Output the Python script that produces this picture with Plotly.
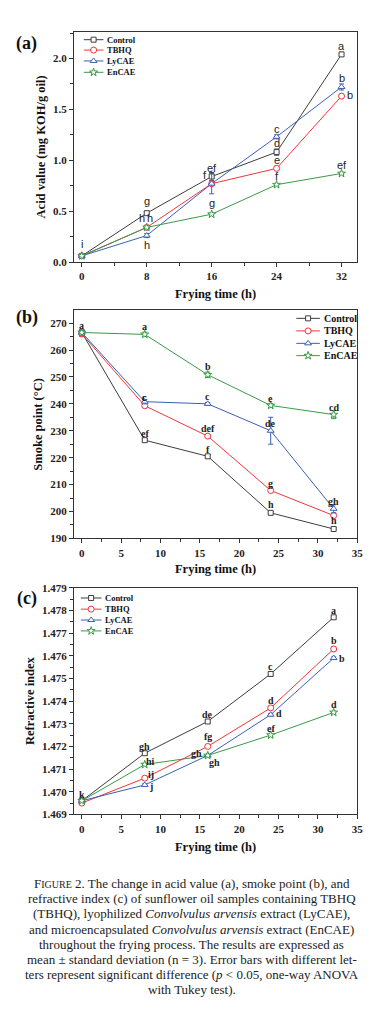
import plotly.graph_objects as go

W, H = 373, 1012

# ---------------- data ----------------
series_names = ["Control", "TBHQ", "LyCAE", "EnCAE"]
frying_time = [0, 8, 16, 24, 32]

# (a) acid value (mg KOH/g oil)
acid_control = [0.06, 0.48, 0.84, 1.08, 2.04]
acid_tbhq = [0.06, 0.34, 0.77, 0.92, 1.63]
acid_lycae = [0.06, 0.26, 0.77, 1.23, 1.72]
acid_encae = [0.06, 0.34, 0.47, 0.76, 0.87]
acid_sd_control = [0.01, 0.01, 0.04, 0.03, 0.02]
acid_sd_tbhq = [0.01, 0.02, 0.02, 0.02, 0.02]
acid_sd_lycae = [0.01, 0.02, 0.10, 0.02, 0.03]
acid_sd_encae = [0.01, 0.01, 0.01, 0.01, 0.01]
acid_let_control = ["i", "g", "f", "d", "a"]
acid_let_tbhq = ["", "h", "", "e", "b"]
acid_let_lycae = ["", "h", "ef", "c", "b"]
acid_let_encae = ["", "h", "g", "f", "ef"]

# (b) smoke point (°C)
smoke_control = [266.5, 226.5, 220.5, 199.5, 193.5]
smoke_tbhq = [266.0, 239.3, 228.0, 207.8, 198.5]
smoke_lycae = [266.5, 240.8, 240.0, 230.0, 201.0]
smoke_encae = [266.5, 265.8, 250.8, 239.4, 236.0]
smoke_sd_control = [1.0, 0.5, 0.5, 0.5, 0.5]
smoke_sd_tbhq = [1.0, 0.7, 0.5, 0.5, 0.8]
smoke_sd_lycae = [1.0, 0.8, 0.5, 5.0, 1.5]
smoke_sd_encae = [1.0, 0.8, 1.0, 0.7, 1.5]
smoke_let_control = ["a", "ef", "f", "h", "h"]
smoke_let_tbhq = ["", "c", "def", "g", ""]
smoke_let_lycae = ["", "c", "c", "de", "gh"]
smoke_let_encae = ["", "a", "b", "e", "cd"]

# (c) refractive index
ri_control = [1.4696, 1.4717, 1.4731, 1.4752, 1.4777]
ri_tbhq = [1.4695, 1.4706, 1.4720, 1.4737, 1.4763]
ri_lycae = [1.4696, 1.4703, 1.4716, 1.4734, 1.4759]
ri_encae = [1.4696, 1.4712, 1.4716, 1.4725, 1.4735]
ri_sd_control = [0.00005, 0.00005, 0.00005, 0.0001, 0.00005]
ri_sd_tbhq = [0.00005, 0.00005, 0.00005, 0.00005, 0.0001]
ri_sd_lycae = [0.00005, 0.00005, 0.00005, 0.00005, 0.00005]
ri_sd_encae = [0.00005, 0.00005, 0.00005, 0.00005, 0.00005]
ri_let_control = ["k", "gh", "de", "c", "a"]
ri_let_tbhq = ["", "ij", "fg", "d", "b"]
ri_let_lycae = ["", "j", "gh", "d", "b"]
ri_let_encae = ["", "hi", "gh", "ef", "d"]

caption_lines = [
    "F<span style='font-size:10px'>IGURE</span> 2. The change in acid value (a), smoke point (b), and",
    "refractive index (c) of sunflower oil samples containing TBHQ",
    "(TBHQ), lyophilized <i>Convolvulus arvensis</i> extract (LyCAE),",
    "and microencapsulated <i>Convolvulus arvensis</i> extract (EnCAE)",
    "throughout the frying process. The results are expressed as",
    "mean ± standard deviation (n = 3). Error bars with different let-",
    "ters represent significant difference (<i>p</i> &lt; 0.05, one-way ANOVA",
    "with Tukey test).",
]

# ---------------- style ----------------
colors = ["#3d3d3d", "#f0353a", "#3b5fb5", "#3a9a48"]
symbols = ["square", "circle", "triangle-up", "star"]
msize = [5, 6, 6, 6]
AX = "#333333"
SERIF = "Liberation Serif"
SANS = "Liberation Sans"

fig = go.Figure()


def px2paper_x(px):
    return px / W


def px2paper_y(py):
    return 1 - py / H


panels = [
    dict(x="x", y="y",
         vals=[acid_control, acid_tbhq, acid_lycae, acid_encae],
         sds=[acid_sd_control, acid_sd_tbhq, acid_sd_lycae, acid_sd_encae],
         lets=[acid_let_control, acid_let_tbhq, acid_let_lycae, acid_let_encae],
         offs=[[(0, 12), (0, 12), (-7, 2), (0, 9), (0, 8)],
               [None, (-5, 9), None, (0, 8), (8, 1)],
               [None, (0, -9), (0, 16), (0, 8), (0, 9)],
               [None, (3, 9), (0, 11), (0, 9), (0, 8)]],
         letfont=dict(family=SANS, size=11, color="#222")),
    dict(x="x2", y="y2",
         vals=[smoke_control, smoke_tbhq, smoke_lycae, smoke_encae],
         sds=[smoke_sd_control, smoke_sd_tbhq, smoke_sd_lycae, smoke_sd_encae],
         lets=[smoke_let_control, smoke_let_tbhq, smoke_let_lycae, smoke_let_encae],
         offs=[[(0, 7), (0, 7), (0, 7), (0, 8), (0, 8)],
               [None, (0, 8), (0, 8), (0, 7), None],
               [None, (0, 4), (0, 7), (0, 7), (0, 7)],
               [None, (0, 8), (0, 8), (0, 7), (0, 7)]],
         letfont=dict(family=SERIF, size=10, color="#222", weight="bold")),
    dict(x="x3", y="y3",
         vals=[ri_control, ri_tbhq, ri_lycae, ri_encae],
         sds=[ri_sd_control, ri_sd_tbhq, ri_sd_lycae, ri_sd_encae],
         lets=[ri_let_control, ri_let_tbhq, ri_let_lycae, ri_let_encae],
         offs=[[(0, 6), (0, 7), (0, 7), (0, 7), (0, 7)],
               [None, (6, 4), (0, 10), (0, 7), (0, 8)],
               [None, (6, -2), (7, -7), (8, 1), (8, 0)],
               [None, (6, 3), (-11, 2), (0, 7), (0, 8)]],
         letfont=dict(family=SERIF, size=10, color="#222", weight="bold")),
]

annotations = []
for p in panels:
    for i in range(4):
        fig.add_trace(go.Scatter(
            x=frying_time, y=p["vals"][i], name=series_names[i],
            mode="lines+markers", xaxis=p["x"], yaxis=p["y"], showlegend=False,
            line=dict(color=colors[i], width=1),
            marker=dict(symbol=symbols[i], size=msize[i], color="white",
                        line=dict(color=colors[i], width=1)),
            error_y=dict(type="data", array=p["sds"][i], color=colors[i],
                         thickness=1, width=2.5),
        ))
        for j, t in enumerate(frying_time):
            lab = p["lets"][i][j]
            off = p["offs"][i][j]
            if lab and off is not None:
                annotations.append(dict(
                    x=t, y=p["vals"][i][j], xref=p["x"], yref=p["y"],
                    text=lab, showarrow=False, xshift=off[0], yshift=off[1],
                    font=p["letfont"]))

# ---------------- legends (drawn on a pixel overlay axis) ----------------
legend_specs = [
    dict(x0=77, x1=97, tx=99, rows=[26, 36.5, 47.5, 59], fs=8.5),
    dict(x0=293, x1=317, tx=319, rows=[308, 320.7, 333.3, 345.7], fs=10),
    dict(x0=74, x1=95, tx=96.5, rows=[591, 602.3, 613.3, 624.3], fs=8.5),
]
for spec in legend_specs:
    for i in range(4):
        yy = spec["rows"][i]
        fig.add_trace(go.Scatter(
            x=[spec["x0"], spec["x1"]], y=[yy, yy], mode="lines",
            xaxis="x4", yaxis="y4", showlegend=False, hoverinfo="skip",
            line=dict(color=colors[i], width=1)))
        fig.add_trace(go.Scatter(
            x=[(spec["x0"] + spec["x1"]) / 2], y=[yy], mode="markers",
            xaxis="x4", yaxis="y4", showlegend=False, hoverinfo="skip",
            marker=dict(symbol=symbols[i], size=msize[i], color="white",
                        line=dict(color=colors[i], width=1))))
        annotations.append(dict(
            x=px2paper_x(spec["tx"]), y=px2paper_y(yy), xref="paper", yref="paper",
            text=series_names[i], showarrow=False, xanchor="left", yanchor="middle",
            font=dict(family=SERIF, size=spec["fs"], color="#111", weight="bold")))

# panel letters
for lab, yy in [("(a)", 30), ("(b)", 307), ("(c)", 592)]:
    annotations.append(dict(
        x=px2paper_x(19), y=px2paper_y(yy), xref="paper", yref="paper",
        text=lab, showarrow=False, xanchor="center", yanchor="middle",
        font=dict(family=SERIF, size=18, color="#111", weight="bold")))

# caption
cap_y = [880, 895.3, 910.6, 926, 941.3, 956.6, 972, 987.3]
for line, yy in zip(caption_lines, cap_y):
    annotations.append(dict(
        x=0.5, y=px2paper_y(yy), xref="paper", yref="paper",
        text=line, showarrow=False, xanchor="center", yanchor="middle",
        font=dict(family=SERIF, size=13, color="#222")))

# ---------------- axes ----------------
tickfont = dict(family=SERIF, size=11, color="#222", weight="bold")
titlefont = dict(family=SERIF, size=12.5, color="#111", weight="bold")
base = dict(showgrid=False, zeroline=False, showline=True, linecolor=AX, linewidth=1,
            mirror=True, ticks="outside", ticklen=4, tickwidth=1, tickcolor=AX,
            tickfont=tickfont, fixedrange=True)
xdom = [67 / W, 355 / W]


def ydom(top, bottom):
    return [1 - bottom / H, 1 - top / H]


layout_axes = dict(
    xaxis=dict(base, domain=xdom, anchor="y", range=[-0.97, 33.94], tickvals=[0, 8, 16, 24, 32],
               minor=dict(dtick=4, tick0=0, ticks="outside", ticklen=2.5, tickcolor=AX),
               title=dict(text="Frying time (h)", font=titlefont, standoff=8)),
    yaxis=dict(base, domain=ydom(18, 251), anchor="x", range=[0, 2.262], dtick=0.5,
               tickformat=".1f",
               minor=dict(dtick=0.25, tick0=0, ticks="outside", ticklen=2.5, tickcolor=AX),
               title=dict(text="Acid value (mg KOH/g oil)", font=titlefont, standoff=4)),
    xaxis2=dict(base, domain=xdom, anchor="y2", range=[-1, 35], dtick=5, tick0=0,
                minor=dict(dtick=2.5, tick0=0, ticks="outside", ticklen=2.5, tickcolor=AX),
                title=dict(text="Frying time (h)", font=titlefont, standoff=6)),
    yaxis2=dict(base, domain=ydom(300, 530.7), anchor="x2", range=[190, 274.7], dtick=10,
                tick0=190,
                minor=dict(dtick=5, tick0=190, ticks="outside", ticklen=2.5, tickcolor=AX),
                title=dict(text="Smoke point (°C)", font=titlefont, standoff=4)),
    xaxis3=dict(base, domain=xdom, anchor="y3", range=[-1, 35], dtick=5, tick0=0,
                minor=dict(dtick=2.5, tick0=0, ticks="outside", ticklen=2.5, tickcolor=AX),
                title=dict(text="Frying time (h)", font=titlefont, standoff=8)),
    yaxis3=dict(base, domain=ydom(580.7, 810), anchor="x3", range=[1.469, 1.479], dtick=0.001,
                tick0=1.469, tickformat=".3f",
                minor=dict(dtick=0.0005, tick0=1.469, ticks="outside", ticklen=2.5, tickcolor=AX),
                title=dict(text="Refractive index", font=titlefont, standoff=4)),
    xaxis4=dict(domain=[0, 1], range=[0, W], visible=False, fixedrange=True, anchor="y4"),
    yaxis4=dict(domain=[0, 1], range=[H, 0], visible=False, fixedrange=True, anchor="x4"),
)

fig.update_layout(
    width=W, height=H, margin=dict(l=0, r=0, t=0, b=0),
    paper_bgcolor="white", plot_bgcolor="rgba(0,0,0,0)",
    showlegend=False, annotations=annotations, **layout_axes)

fig.write_html("out.html")
